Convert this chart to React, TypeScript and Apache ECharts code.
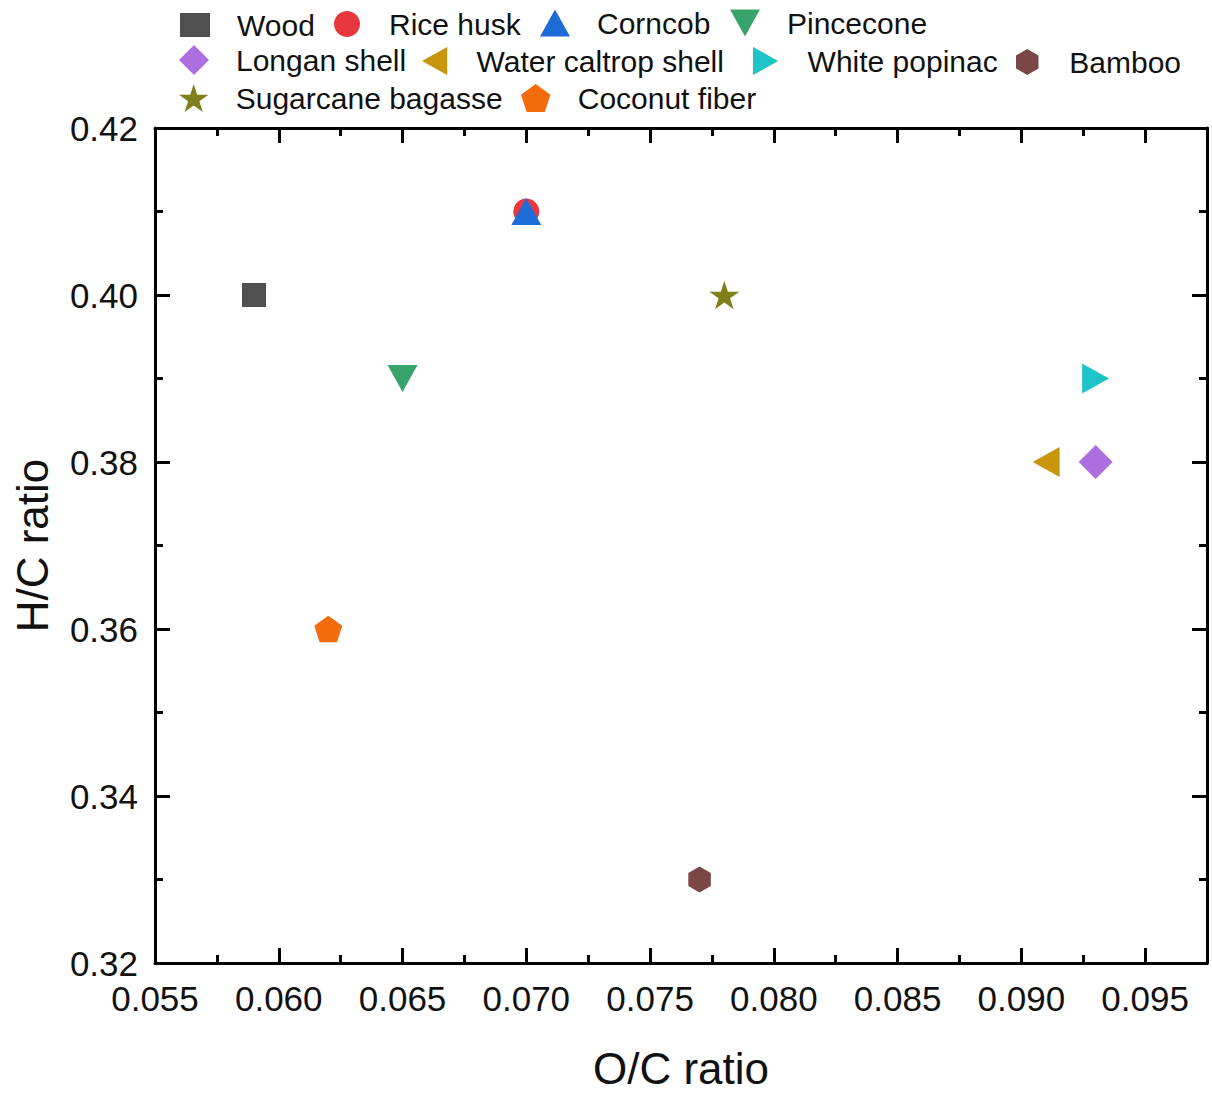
import React, { useEffect, useRef } from "react";
import * as echarts from "echarts";

// ---- data ----
const categories = [
  "Wood",
  "Rice husk",
  "Corncob",
  "Pincecone",
  "Longan shell",
  "Water caltrop shell",
  "White popinac",
  "Bamboo",
  "Sugarcane bagasse",
  "Coconut fiber",
];
const ocRatio = [0.059, 0.07, 0.07, 0.065, 0.093, 0.091, 0.093, 0.077, 0.078, 0.062];
const hcRatio = [0.4, 0.41, 0.41, 0.39, 0.38, 0.38, 0.39, 0.33, 0.4, 0.36];
const xRange = [0.055, 0.0975];
const yRange = [0.32, 0.42];
const xMajor = 0.005;
const yMajor = 0.02;

// ---- styles ----
const STAR =
  "path://M100 0 L122.45 69.1 L195.1 69.1 L136.3 111.8 L158.8 180.9 L100 138.2 L41.2 180.9 L63.7 111.8 L4.9 69.1 L77.55 69.1 Z";
const PENTAGON = "path://M100 0 L195.1 69.1 L158.8 180.9 L41.2 180.9 L4.9 69.1 Z";
const HEXAGON = "path://M100 0 L186.6 50 L186.6 150 L100 200 L13.4 150 L13.4 50 Z";
const TRI_UP = "path://M50 0 L100 90 L0 90 Z";
const TRI_DOWN = "path://M0 0 L100 0 L50 90 Z";
const TRI_LEFT = "path://M90 0 L90 100 L0 50 Z";
const TRI_RIGHT = "path://M0 0 L0 100 L90 50 Z";

const colors = [
  "#505050",
  "#e8383d",
  "#1f6bd8",
  "#38a46c",
  "#ad6ee0",
  "#c8960c",
  "#1ec4c8",
  "#7b4646",
  "#80801a",
  "#f46b0c",
];
const symbols = ["rect", "circle", TRI_UP, TRI_DOWN, "diamond", TRI_LEFT, TRI_RIGHT, HEXAGON, STAR, PENTAGON];
const sizes = [24, 26, 30, 30, 34, 30, 30, 26, 30, 28];
const legendSizes = [24, 26, 28, 28, 30, 28, 28, 26, 28, 28];
const legendPos = [
  [195, 22],
  [349, 22],
  [555, 22],
  [745, 22],
  [194, 60],
  [437, 60],
  [768, 60],
  [1031, 60],
  [194, 97],
  [536, 97],
];

const FONT = "'Liberation Sans', Arial, sans-serif";
const GRID = { left: 155, top: 128, width: 1052, height: 849 };

function isMultiple(v: number, step: number) {
  const r = v / step;
  return Math.abs(r - Math.round(r)) < 1e-6;
}

export default function App() {
  const ref = useRef<HTMLDivElement>(null);

  useEffect(() => {
    document.body.style.margin = "0";
    if (!ref.current) return;
    const chart = echarts.init(ref.current, undefined, { renderer: "svg" });

    const axisLine = { show: true, lineStyle: { color: "#000", width: 3 } };
    const majorTick = { show: true, inside: true, length: 15, lineStyle: { color: "#000", width: 3 } };
    const minorTickStyle = { show: true, inside: true, length: 8, lineStyle: { color: "#000", width: 3 } };

    const xBase = {
      type: "value",
      min: xRange[0],
      max: xRange[1],
      splitLine: { show: false },
    };

    const option: any = {
      animation: false,
      backgroundColor: "#fff",
      grid: { ...GRID, containLabel: false },
      legend: categories.map((name, i) => ({
        data: [{ name, icon: symbols[i] }],
        left: legendPos[i][0] - 15,
        top: legendPos[i][1] - legendSizes[i] / 2,
        itemWidth: 30,
        itemHeight: legendSizes[i],
        padding: 0,
        selectedMode: false,
        textStyle: {
          fontSize: 30,
          fontFamily: FONT,
          color: "#111",
          padding: [0, 0, 0, 22],
        },
      })),
      xAxis: [
        {
          ...xBase,
          position: "bottom",
          interval: xMajor,
          axisLine,
          axisTick: majorTick,
          axisLabel: {
            fontSize: 35,
            fontFamily: FONT,
            color: "#111",
            margin: 18,
            formatter: (v: number) => (isMultiple(v, xMajor) ? v.toFixed(3) : ""),
          },
          name: "O/C ratio",
          nameLocation: "middle",
          nameGap: 83,
          nameTextStyle: { fontSize: 44, fontFamily: FONT, color: "#111" },
        },
        {
          ...xBase,
          position: "bottom",
          interval: xMajor / 2,
          axisLine: { show: false },
          axisTick: minorTickStyle,
          axisLabel: { show: false },
        },
        {
          ...xBase,
          position: "top",
          interval: xMajor,
          axisLine,
          axisTick: majorTick,
          axisLabel: { show: false },
        },
        {
          ...xBase,
          position: "top",
          interval: xMajor / 2,
          axisLine: { show: false },
          axisTick: minorTickStyle,
          axisLabel: { show: false },
        },
      ],
      yAxis: [
        {
          type: "value",
          position: "left",
          min: yRange[0],
          max: yRange[1],
          interval: yMajor,
          axisLine,
          axisTick: majorTick,
          minorTick: { show: true, splitNumber: 2, length: 8, lineStyle: { color: "#000", width: 3 } },
          splitLine: { show: false },
          axisLabel: {
            fontSize: 35,
            fontFamily: FONT,
            color: "#111",
            margin: 17,
            formatter: (v: number) => v.toFixed(2),
          },
          name: "H/C ratio",
          nameLocation: "middle",
          nameGap: 101,
          nameTextStyle: { fontSize: 44, fontFamily: FONT, color: "#111" },
        },
        {
          type: "value",
          position: "right",
          min: yRange[0],
          max: yRange[1],
          interval: yMajor,
          axisLine,
          axisTick: majorTick,
          minorTick: { show: true, splitNumber: 2, length: 8, lineStyle: { color: "#000", width: 3 } },
          splitLine: { show: false },
          axisLabel: { show: false },
        },
      ],
      series: categories.map((name, i) => ({
        name,
        type: "scatter",
        xAxisIndex: 0,
        yAxisIndex: 0,
        symbol: symbols[i],
        symbolSize: sizes[i],
        symbolKeepAspect: true,
        itemStyle: { color: colors[i], opacity: 1 },
        data: [[ocRatio[i], hcRatio[i]]],
        z: 2 + i,
      })),
    };

    chart.setOption(option);
    return () => chart.dispose();
  }, []);

  return <div ref={ref} style={{ width: 1212, height: 1095 }} />;
}
